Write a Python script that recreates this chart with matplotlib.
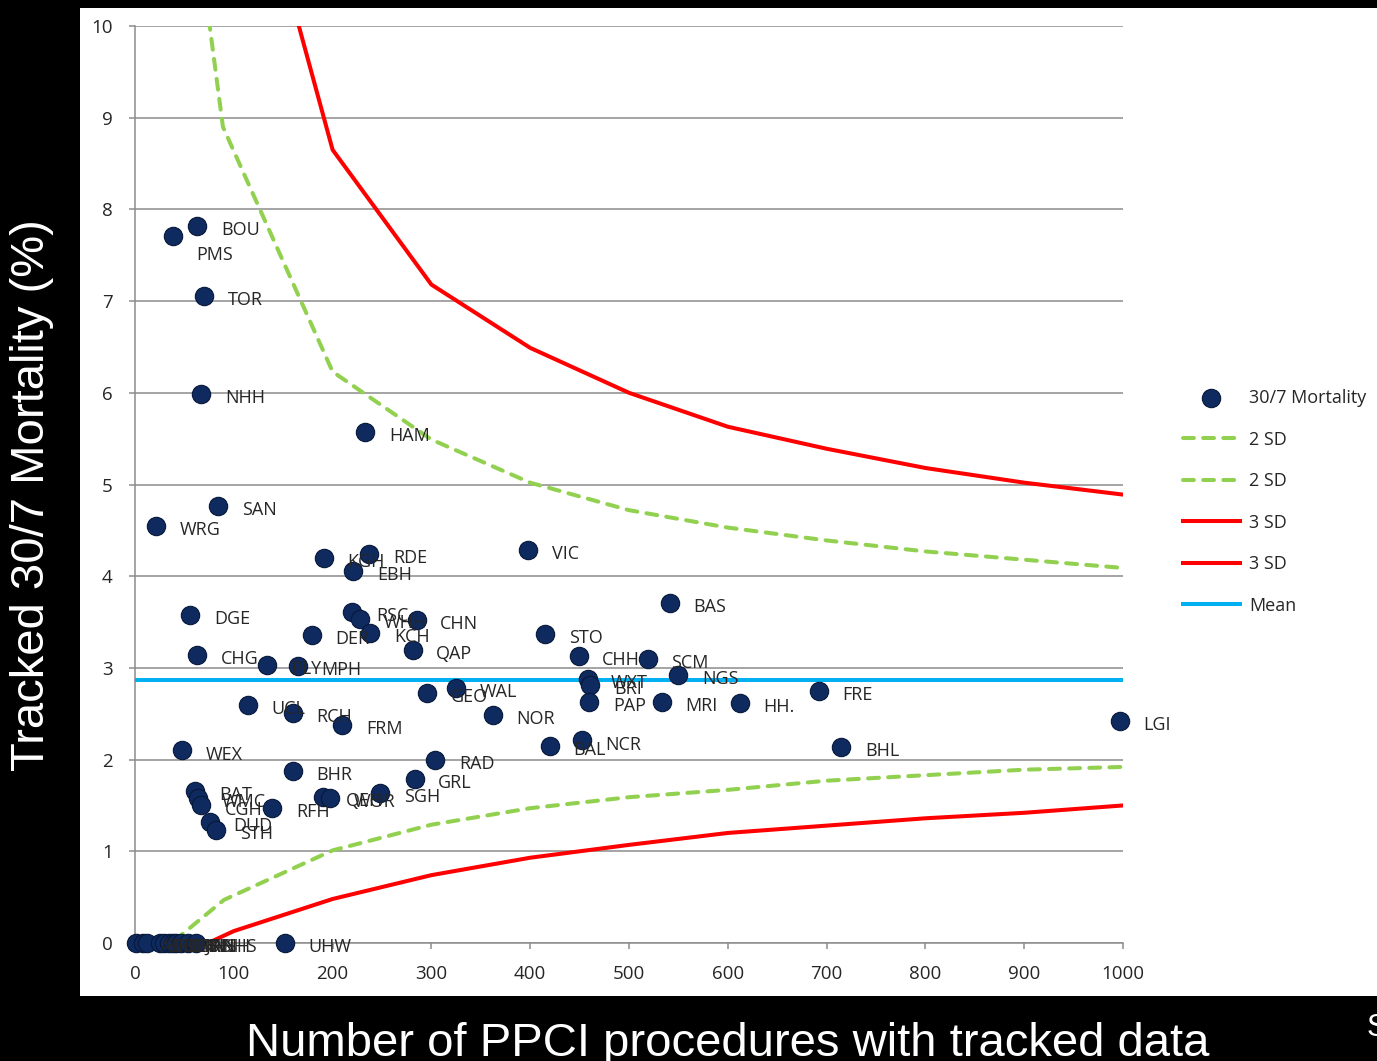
import numpy as np
import matplotlib
matplotlib.use("Agg")
import matplotlib.pyplot as plt
from matplotlib.patches import Rectangle

# --- data ---
hospitals = ["BOU", "PMS", "TOR", "NHH", "HAM", "SAN", "WRG", "KGH", "RDE", "EBH",
             "VIC", "DGE", "BAS", "RSC", "WHH", "KCH", "CHN", "QAP", "DER", "STO",
             "CHG", "PLY", "MPH", "CHH", "SCM", "NGS", "WXT", "BRI", "PAP", "MRI",
             "HH.", "FRE", "LGI", "BHL", "GEO", "WAL", "NOR", "BAL", "NCR", "UCL",
             "RCH", "FRM", "WEX", "BHR", "RAD", "GRL", "SGH", "QEH", "WOR", "BAT",
             "WMC", "CGH", "DUD", "STH", "RFH", "UHW",
             "ABH", "BRG", "COL", "DHS", "ENH", "FRH", "GHS", "HNS", "JRH", "ANH", "NHS"]
procedures = [63, 38, 70, 67, 233, 84, 21, 191, 237, 221,
              398, 56, 541, 220, 228, 238, 285, 281, 179, 415,
              63, 134, 165, 449, 519, 550, 458, 461, 460, 533,
              612, 692, 997, 715, 296, 325, 362, 420, 452, 114,
              160, 210, 48, 160, 304, 283, 248, 190, 197, 61,
              64, 67, 76, 82, 139, 152,
              1, 8, 12, 25, 29, 34, 38, 42, 47, 54, 62]
mortality = [7.82, 7.71, 7.06, 5.99, 5.57, 4.77, 4.55, 4.20, 4.24, 4.06,
             4.29, 3.58, 3.71, 3.61, 3.53, 3.38, 3.52, 3.20, 3.36, 3.37,
             3.14, 3.03, 3.02, 3.13, 3.10, 2.92, 2.88, 2.81, 2.63, 2.63,
             2.62, 2.75, 2.42, 2.14, 2.73, 2.78, 2.49, 2.15, 2.21, 2.60,
             2.51, 2.38, 2.10, 1.88, 2.00, 1.79, 1.64, 1.59, 1.58, 1.66,
             1.58, 1.50, 1.32, 1.23, 1.47, 0.0,
             0, 0, 0, 0, 0, 0, 0, 0, 0, 0, 0]

mean_x = [0, 1000]
mean_y = [2.87, 2.87]

sd2_upper_x = [50, 89, 200, 300, 400, 500, 600, 700, 800, 900, 1000]
sd2_upper_y = [12.1, 8.9, 6.23, 5.49, 5.02, 4.72, 4.53, 4.39, 4.27, 4.18, 4.09]
sd2_lower_x = [0, 37, 90, 200, 300, 400, 500, 600, 700, 800, 900, 1000]
sd2_lower_y = [0, 0, 0.47, 1.01, 1.29, 1.47, 1.59, 1.67, 1.77, 1.83, 1.89, 1.92]
sd3_upper_x = [100, 200, 300, 400, 500, 600, 700, 800, 900, 1000]
sd3_upper_y = [12.6, 8.65, 7.18, 6.49, 6.00, 5.63, 5.39, 5.18, 5.02, 4.89]
sd3_lower_x = [0, 74, 100, 200, 300, 400, 500, 600, 700, 800, 900, 1000]
sd3_lower_y = [0, 0, 0.13, 0.48, 0.74, 0.93, 1.07, 1.20, 1.28, 1.36, 1.42, 1.50]

label_nudge = {"PMS": (0, -11)}   # points, where the label sits off its usual place

W, H = 1377, 1061
fig = plt.figure(figsize=(W / 100, H / 100), dpi=100, facecolor="black")

# white slide panel
fig.patches.append(Rectangle((80 / W, 1 - 996 / H), 1 - 80 / W, (996 - 8) / H,
                             transform=fig.transFigure, facecolor="white",
                             edgecolor="none", zorder=-10))

ax = fig.add_axes([135 / W, 1 - 943 / H, (1123 - 135) / W, (943 - 26) / H])
ax.set_facecolor("none")
ax.set_zorder(1)

font = "Open Sans"
txt_col = "#262626"
lw = 2.9

ax.set_xlim(0, 1000)
ax.set_ylim(0, 10)
ax.set_xticks(np.arange(0, 1001, 100))
ax.set_yticks(np.arange(0, 11, 1))
ax.grid(axis="y", color="#8c8c8c", linewidth=1.1)
ax.set_axisbelow(True)
for s in ["top", "right"]:
    ax.spines[s].set_visible(False)
for s in ["left", "bottom"]:
    ax.spines[s].set_color("#8c8c8c")
    ax.spines[s].set_linewidth(1.1)
ax.tick_params(colors="#8c8c8c", length=4, width=1.1, labelcolor=txt_col,
               labelsize=13.5)
ax.tick_params(axis="x", pad=12)
ax.tick_params(axis="y", pad=12)
for t in ax.get_xticklabels() + ax.get_yticklabels():
    t.set_family(font)

sc = ax.scatter(procedures, mortality, s=175, color="#0f2a5e", edgecolor="#07183a",
                linewidth=0.8, zorder=5, clip_on=False, label="30/7 Mortality")

g1, = ax.plot(sd2_upper_x, sd2_upper_y, color="#92d050", lw=lw, dashes=(2.7, 2.3),
              dash_capstyle="round", label="2 SD", zorder=3)
g2, = ax.plot(sd2_lower_x, sd2_lower_y, color="#92d050", lw=lw, dashes=(2.7, 2.3),
              dash_capstyle="round", label="2 SD", zorder=3)
r1, = ax.plot(sd3_upper_x, sd3_upper_y, color="#ff0000", lw=lw, label="3 SD", zorder=3)
r2, = ax.plot(sd3_lower_x, sd3_lower_y, color="#ff0000", lw=lw, label="3 SD", zorder=3)
m1, = ax.plot(mean_x, mean_y, color="#00b0f0", lw=lw, label="Mean", zorder=3)

for name, x, y in zip(hospitals, procedures, mortality):
    dx, dy = label_nudge.get(name, (0, 0))
    ax.annotate(name, (x, y), xytext=(17 + dx, -3 + dy), textcoords="offset points",
                va="center", ha="left", fontsize=13, family=font, color=txt_col,
                zorder=6, annotation_clip=False)

leg = ax.legend(handles=[sc, g1, g2, r1, r2, m1], loc="upper left",
                bbox_to_anchor=(1183 / W, 1 - 389 / H), bbox_transform=fig.transFigure,
                frameon=False, borderpad=0, borderaxespad=0, handlelength=3.15,
                handletextpad=0.5, labelspacing=1.305, scatterpoints=1,
                prop={"family": font, "size": 13})
for t in leg.get_texts():
    t.set_color(txt_col)

fig.text(32 / W, 1 - 495 / H, "Tracked 30/7 Mortality (%)", rotation=90,
         ha="center", va="center", color="white", fontsize=34, family="Liberation Sans")
fig.text(728 / W, 1 - 1056 / H, "Number of PPCI procedures with tracked data",
         ha="center", va="baseline", color="white", fontsize=34, family="Liberation Sans")
fig.text(1367 / W, 1 - 1036 / H, "S", ha="left", va="baseline", color="white",
         fontsize=22, family="Liberation Sans")

fig.savefig("out.png", dpi=100, facecolor="black")
